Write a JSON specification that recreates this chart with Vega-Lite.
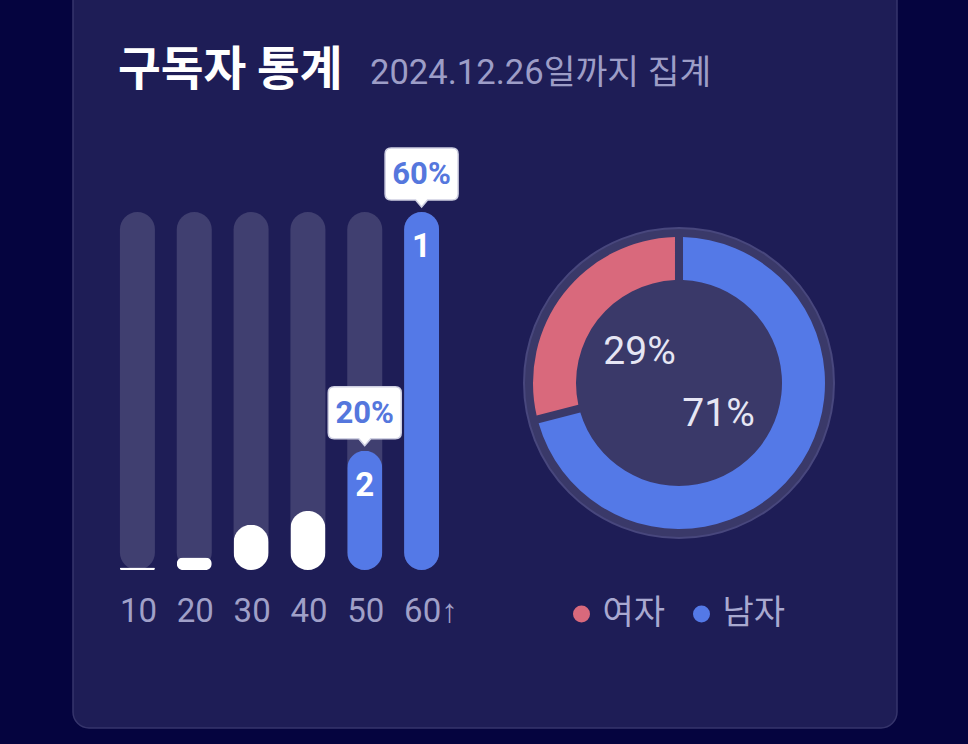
{
  "$schema": "https://vega.github.io/schema/vega-lite/v6.json",
  "width": 824,
  "height": 748,
  "autosize": "none",
  "padding": {"left": 73, "top": -20, "right": 71, "bottom": 16},
  "background": "#05043f",
  "view": {"fill": "#1e1d56", "stroke": "#36356c", "strokeWidth": 1.5, "cornerRadius": 16},
  "datasets": {
    "ages": [
      {"age": "10", "pct": 0.004, "rank": null},
      {"age": "20", "pct": 0.021, "rank": null},
      {"age": "30", "pct": 0.076, "rank": null},
      {"age": "40", "pct": 0.099, "rank": null},
      {"age": "50", "pct": 0.2, "rank": 2},
      {"age": "60↑", "pct": 0.6, "rank": 1}
    ],
    "gender": [
      {"gender": "남자", "pct": 0.71, "ord": 1},
      {"gender": "여자", "pct": 0.29, "ord": 2}
    ]
  },
  "layer": [
    {
      "data": {"values": [{"t": "구독자 통계"}]},
      "mark": {"type": "text", "x": 45, "y": 105, "align": "left", "baseline": "alphabetic", "font": "Noto Sans CJK KR", "fontSize": 46.5, "fontWeight": "bold", "color": "#ffffff"},
      "encoding": {"text": {"field": "t"}}
    },
    {
      "data": {"values": [{"t": "2024.12.26일까지 집계"}]},
      "mark": {"type": "text", "x": 297, "y": 104, "align": "left", "baseline": "alphabetic", "font": "Roboto, 'Noto Sans CJK KR'", "fontSize": 34.6, "color": "#9d9dc7"},
      "encoding": {"text": {"field": "t"}}
    },
    {
      "data": {"name": "ages"},
      "mark": {"type": "bar", "cornerRadius": 17.5, "color": "#403f70"},
      "encoding": {
        "x": {"field": "age", "type": "nominal", "sort": null,
              "scale": {"range": [36, 377], "paddingInner": 0.384, "paddingOuter": 0.192},
              "axis": {"title": null, "domain": false, "ticks": false, "grid": false, "labelAngle": 0, "labelFont": "Roboto", "labelFontSize": 33, "labelColor": "#a0a0c8", "labelPadding": 0, "offset": -133, "labelAlign": "left", "labelOffset": -17.5, "labelBaseline": "top"}},
        "y": {"datum": 0.6, "type": "quantitative", "scale": {"domain": [0, 0.6], "range": [590, 232], "nice": false}, "axis": null}
      }
    },
    {
      "data": {"name": "ages"},
      "mark": {"type": "bar", "cornerRadius": 17.5},
      "encoding": {
        "x": {"field": "age", "type": "nominal", "sort": null},
        "y": {"field": "pct", "type": "quantitative"},
        "color": {"condition": {"test": "isValid(datum.rank)", "value": "#5479e7"}, "value": "#ffffff"}
      }
    },
    {
      "data": {"name": "ages"},
      "transform": [{"filter": "isValid(datum.rank)"}],
      "mark": {"type": "text", "dy": 35, "baseline": "middle", "font": "Roboto", "fontSize": 33, "fontWeight": "bold", "color": "#ffffff"},
      "encoding": {
        "x": {"field": "age", "type": "nominal", "sort": null},
        "y": {"field": "pct", "type": "quantitative"},
        "text": {"field": "rank"}
      }
    },
    {
      "data": {"name": "ages"},
      "transform": [{"filter": "isValid(datum.rank)"}],
      "mark": {"type": "point", "shape": "M0,0 L-0.6,-0.7 L-3.05,-0.7 Q-3.65,-0.7 -3.65,-1.3 L-3.65,-5.3 Q-3.65,-5.9 -3.05,-5.9 L3.05,-5.9 Q3.65,-5.9 3.65,-5.3 L3.65,-1.3 Q3.65,-0.7 3.05,-0.7 L0.6,-0.7 Z", "size": 400, "filled": true, "fill": "#ffffff", "stroke": "#cfd0e2", "strokeWidth": 1.5, "opacity": 1, "yOffset": -5},
      "encoding": {
        "x": {"field": "age", "type": "nominal", "sort": null},
        "y": {"field": "pct", "type": "quantitative"}
      }
    },
    {
      "data": {"name": "ages"},
      "transform": [{"filter": "isValid(datum.rank)"}],
      "mark": {"type": "text", "dy": -37, "baseline": "middle", "font": "Roboto", "fontSize": 31, "fontWeight": "bold", "color": "#5577dd"},
      "encoding": {
        "x": {"field": "age", "type": "nominal", "sort": null},
        "y": {"field": "pct", "type": "quantitative"},
        "text": {"field": "pct", "type": "quantitative", "format": ".0%"}
      }
    },
    {
      "data": {"values": [{}]},
      "mark": {"type": "arc", "x": 606, "y": 403, "radius": 155, "radius2": 0, "theta": 0, "theta2": 6.2832, "fill": "#3a3969", "stroke": "#48477d", "strokeWidth": 2},
      "encoding": {}
    },
    {
      "data": {"name": "gender"},
      "mark": {"type": "arc", "x": 606, "y": 403, "radius": 146, "radius2": 103, "padAngle": 0.045},
      "encoding": {
        "theta": {"field": "pct", "type": "quantitative", "stack": true},
        "order": {"field": "ord"},
        "color": {"field": "gender", "type": "nominal",
                  "scale": {"domain": ["여자", "남자"], "range": ["#d9697c", "#5479e7"]},
                  "legend": {"orient": "none", "legendX": 491.5, "legendY": 617, "direction": "horizontal", "title": null, "symbolType": "circle", "symbolSize": 289, "symbolStrokeWidth": 0, "labelFontSize": 34, "labelColor": "#a9a9d0", "labelFont": "Noto Sans CJK KR", "columnPadding": 19, "labelOffset": 4}}
      }
    },
    {
      "data": {"name": "gender"},
      "mark": {"type": "text", "x": 606, "y": 403, "radius": 50, "font": "Roboto", "fontSize": 39, "color": "#e6e6f4"},
      "encoding": {
        "theta": {"field": "pct", "type": "quantitative", "stack": true},
        "order": {"field": "ord"},
        "text": {"field": "pct", "type": "quantitative", "format": ".0%"}
      }
    }
  ]
}
